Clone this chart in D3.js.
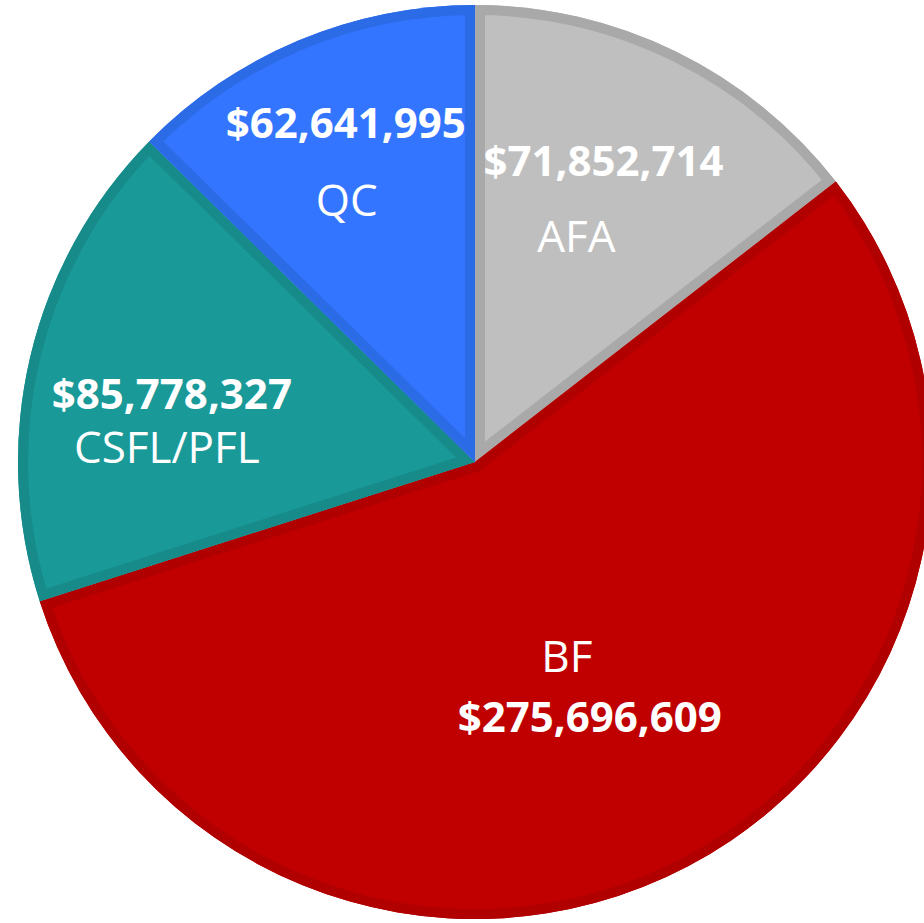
<!DOCTYPE html>
<html lang="en">
<head>
    <meta charset="UTF-8">
    <title>Funding by program</title>
    <style>
        body { margin: 0; background: #fff; }
        svg { display: block; }
        text { font-family: "Open Sans", "Noto Sans", sans-serif; fill: #fff; }
    </style>
</head>
<body>
    <div id="graphic"></div>

    <script src="https://cdn.jsdelivr.net/npm/d3@7"></script>
    <script>
            // data
            var programs = ['AFA', 'BF', 'CSFL/PFL', 'QC'];
            var amounts = [71852714, 275696609, 85778327, 62641995];
            var fills = ['#bfbfbf', '#c00000', '#1a9999', '#3375ff'];
            var borders = ['#a9a9a9', '#b10000', '#178a8a', '#2c6be6'];

            var width = 924;
            var height = 923;
            var cx = 475, cy = 462, radius = 457;

            // label placement: polar anchor (angle deg, radius) then line offsets
            // valueFirst = amount on top, name below
            var labelLayout = {
                'AFA':      { ang: 23.5, r: 287, valueFirst: true,  vdx: 14,  ndx: -13, gap: 75 },
                'BF':       { ang: 155.4, r: 247, valueFirst: false, vdx: 12,  ndx: -11, gap: 60 },
                'CSFL/PFL': { ang: 277.8, r: 308, valueFirst: true,  vdx: 2,   ndx: -3,  gap: 53 },
                'QC':       { ang: 336.7, r: 327, valueFirst: true, vdx: 0,  ndx: 1,   gap: 77 }
            };

            var data = programs.map(function(p, i) {
                return { name: p, value: amounts[i], fill: fills[i], border: borders[i] };
            });

            var svg = d3.select('#graphic')
                .append('svg')
                .attr('width', width)
                .attr('height', height);

            var pie = d3.pie()
                .sort(null)
                .value(function(d) { return d.value; });

            var arc = d3.arc()
                .innerRadius(0)
                .outerRadius(radius);

            var arcs = pie(data);

            var g = svg.append('g')
                .attr('transform', 'translate(' + cx + ',' + cy + ')');

            var defs = svg.append('defs');
            arcs.forEach(function(d, i) {
                defs.append('clipPath')
                    .attr('id', 'clip' + i)
                    .append('path')
                    .attr('d', arc(d));
            });

            var slices = g.selectAll('g.slice')
                .data(arcs)
                .join('g')
                .attr('class', 'slice');

            slices.append('path')
                .attr('d', arc)
                .attr('fill', function(d) { return d.data.fill; });

            // inner border, clipped so it only shows inside the slice
            slices.append('path')
                .attr('d', arc)
                .attr('fill', 'none')
                .attr('stroke', function(d) { return d.data.border; })
                .attr('stroke-width', 20)
                .attr('stroke-linejoin', 'miter')
                .attr('clip-path', function(d, i) { return 'url(#clip' + i + ')'; });

            var fmt = d3.format('$,');

            arcs.forEach(function(d) {
                var L = labelLayout[d.data.name];
                var a = L.ang * Math.PI / 180;
                var x = L.r * Math.sin(a);
                var y = -L.r * Math.cos(a);
                var top = y - L.gap / 2, bottom = y + L.gap / 2;
                var vy = L.valueFirst ? top : bottom;
                var ny = L.valueFirst ? bottom : top;

                g.append('text')
                    .attr('x', x + L.vdx)
                    .attr('y', vy)
                    .attr('dy', '0.36em')
                    .attr('text-anchor', 'middle')
                    .style('font-size', '42px')
                    .style('font-weight', 700)
                    .text(fmt(d.data.value));

                g.append('text')
                    .attr('x', x + L.ndx)
                    .attr('y', ny)
                    .attr('dy', '0.36em')
                    .attr('text-anchor', 'middle')
                    .style('font-size', '44px')
                    .style('font-weight', 400)
                    .text(d.data.name);
            });
    </script>
</body>
</html>
